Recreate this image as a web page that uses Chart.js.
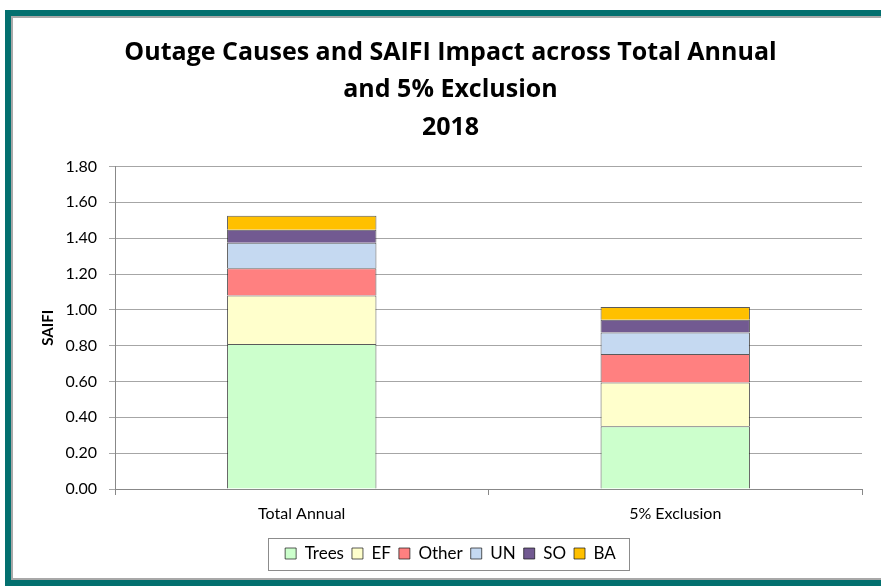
<!DOCTYPE html>
<html>
<head>
<meta charset="utf-8">
<script src="https://cdn.jsdelivr.net/npm/chart.js@4.4.1/dist/chart.umd.min.js"></script>
<style>
  body { margin: 0; background: #fff; }
  #frame {
    position: absolute; left: 5px; top: 10px; width: 900px; height: 576px;
    box-sizing: border-box; border: 6px solid #03706f; background: #fff;
    box-shadow: inset 2px 2px 0 #a8a8a8, inset 0 -2px 0 #a8a8a8;
  }
  #wrap { position: absolute; left: 0; top: 0; width: 881px; height: 586px; }
</style>
</head>
<body>
<div id="frame"></div>
<div id="wrap"><canvas id="outageChart"></canvas></div>
<script>
// categories and series (SAIFI)
const categories = ['Total Annual', '5% Exclusion'];
const trees = [0.81, 0.35];
const ef = [0.27, 0.245];
const other = [0.152, 0.158];
const un = [0.143, 0.12];
const so = [0.072, 0.072];
const ba = [0.078, 0.071];

const seriesNames = ['Trees', 'EF', 'Other', 'UN', 'SO', 'BA'];
const seriesValues = [trees, ef, other, un, so, ba];
const colors = ['#ccffcc', '#ffffcc', '#ff8080', '#c5d9f1', '#725a91', '#ffc000'];

const font = "Lato, 'Open Sans', sans-serif";

// box around the legend, like the original
const legendBorder = {
    id: 'legendBorder',
    afterDraw(chart) {
        const boxes = chart.legend.legendHitBoxes;
        if (!boxes || !boxes.length) return;
        let l = Infinity, r = -Infinity, t = Infinity, b = -Infinity;
        boxes.forEach(h => {
            l = Math.min(l, h.left); r = Math.max(r, h.left + h.width);
            t = Math.min(t, h.top); b = Math.max(b, h.top + h.height);
        });
        const c = chart.ctx;
        c.save();
        c.strokeStyle = '#8c8c8c';
        c.lineWidth = 1;
        c.strokeRect(Math.round(l - 17) + 0.5, Math.round(t - 7) + 0.5, Math.round(r - l + 30), Math.round(b - t + 15));
        c.restore();
    }
};

const ctx = document.getElementById('outageChart').getContext('2d');

new Chart(ctx, {
    type: 'bar',
    data: {
        labels: categories,
        datasets: seriesNames.map((name, i) => ({
            label: name,
            data: seriesValues[i],
            backgroundColor: colors[i],
            borderColor: 'rgba(20,20,20,0.7)',
            borderWidth: 1,
            categoryPercentage: 1,
            barPercentage: 0.4
        }))
    },
    options: {
        responsive: true,
        maintainAspectRatio: false,
        animation: false,
        layout: { padding: { left: 39, right: 19, top: 22, bottom: 14 } },
        plugins: {
            title: {
                display: true,
                text: ['Outage Causes and SAIFI Impact across Total Annual', 'and 5% Exclusion', '2018'],
                color: '#000',
                font: { family: "'Open Sans', sans-serif", size: 25, weight: 'bold', lineHeight: 1.5 },
                padding: { top: 12, bottom: 20 }
            },
            legend: {
                position: 'bottom',
                labels: {
                    color: '#000',
                    font: { family: font, size: 17 },
                    boxWidth: 11,
                    boxHeight: 11,
                    padding: 8
                }
            },
            tooltip: { enabled: false }
        },
        scales: {
            x: {
                stacked: true,
                afterFit(scale) { scale.height = 48; },
                grid: { drawOnChartArea: false, drawTicks: true, tickLength: 6, color: '#888' },
                border: { color: '#888' },
                ticks: { color: '#000', font: { family: font, size: 16 }, padding: 9 }
            },
            y: {
                stacked: true,
                min: 0,
                max: 1.8,
                afterFit(scale) { scale.width = 76; },
                ticks: {
                    stepSize: 0.2,
                    color: '#000',
                    font: { family: font, size: 16 },
                    padding: 12,
                    callback: v => v.toFixed(2)
                },
                grid: { color: '#a6a6a6', tickLength: 6 },
                border: { color: '#888' },
                title: {
                    display: true,
                    text: 'SAIFI',
                    color: '#000',
                    font: { family: font, size: 15, weight: 'bold' },
                    padding: 0
                }
            }
        }
    },
    plugins: [legendBorder]
});
</script>
</body>
</html>
